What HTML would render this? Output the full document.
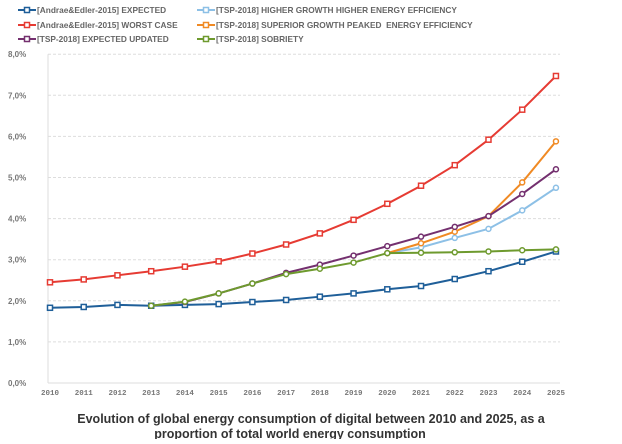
<!DOCTYPE html><html><head><style>body{margin:0;background:#fff;width:622px;height:439px;overflow:hidden}</style></head><body>
<svg id="s" width="622" height="439" xmlns="http://www.w3.org/2000/svg" font-family="Liberation Sans, sans-serif"></svg>
<script>
const s=document.getElementById('s');let h='';
const X=y=>50+(y-2010)*33.73, Y=v=>383-v*41.1;
for(let i=0;i<=8;i++){const y=Y(i);h+=`<line x1="48" x2="560" y1="${y}" y2="${y}" stroke="#ddd" stroke-dasharray="${i?'3,2':''}"/><text x="8" y="${y+3}" font-size="8" font-weight="bold" fill="#777">${i},0%</text>`;}
h+=`<line x1="48" x2="48" y1="${Y(8)}" y2="383" stroke="#ddd"/>`;
for(let yr=2010;yr<=2025;yr++)h+=`<text x="${X(yr)}" y="395" font-size="7.5" font-weight="bold" fill="#777" text-anchor="middle" font-family="Liberation Mono, monospace">${yr}</text>`;
const S=[
['#1f5f99',2010,[1.83,1.85,1.9,1.88,1.9,1.92,1.97,2.02,2.1,2.18,2.28,2.36,2.53,2.72,2.95,3.2]],
['#e63b33',2010,[2.45,2.52,2.62,2.72,2.83,2.96,3.15,3.37,3.64,3.97,4.36,4.8,5.3,5.92,6.65,7.47]],
['#8dc0e6',2020,[3.16,3.3,3.53,3.75,4.2,4.75]],
['#f08a24',2020,[3.16,3.4,3.68,4.06,4.88,5.88]],
['#74306f',2013,[1.88,1.97,2.18,2.42,2.68,2.88,3.1,3.33,3.56,3.8,4.06,4.6,5.2]],
['#6e9a2e',2013,[1.88,1.98,2.18,2.42,2.65,2.78,2.93,3.16,3.17,3.18,3.2,3.23,3.25]]];
for(const [c,st,d] of S){h+=`<polyline fill="none" stroke="${c}" stroke-width="2" points="${d.map((v,i)=>X(st+i)+','+Y(v)).join(' ')}"/>`;
d.forEach((v,i)=>h+=`<rect x="${X(st+i)-2.5}" y="${Y(v)-2.5}" width="5" height="5" fill="#fff" stroke="${c}" stroke-width="1.5" ${c=='#e63b33'||c=='#1f5f99'?'':'rx="2.5"'}/>`);}
const L=[['#1f5f99',18,10,'[Andrae&Edler-2015] EXPECTED'],['#e63b33',18,25,'[Andrae&Edler-2015] WORST CASE'],['#74306f',18,39,'[TSP-2018] EXPECTED UPDATED'],
['#8dc0e6',197,10,'[TSP-2018] HIGHER GROWTH HIGHER ENERGY EFFICIENCY'],['#f08a24',197,25,'[TSP-2018] SUPERIOR GROWTH PEAKED  ENERGY EFFICIENCY'],['#6e9a2e',197,39,'[TSP-2018] SOBRIETY']];
for(const [c,x,y,t] of L){h+=`<line x1="${x}" x2="${x+18}" y1="${y}" y2="${y}" stroke="${c}" stroke-width="2"/><rect x="${x+6.5}" y="${y-2.5}" width="5" height="5" fill="#fff" stroke="${c}" stroke-width="1.5"/><text x="${x+19}" y="${y+3}" font-size="8.3" font-weight="bold" fill="#666" xml:space="preserve">${t.replace(/&/g,'&amp;')}</text>`;}
h+=`<text x="311" y="423" font-size="12.5" font-weight="bold" fill="#333" text-anchor="middle">Evolution of global energy consumption of digital between 2010 and 2025, as a</text><text x="290" y="438" font-size="12.5" font-weight="bold" fill="#333" text-anchor="middle">proportion of total world energy consumption</text>`;
s.innerHTML=h;
</script></body></html>
